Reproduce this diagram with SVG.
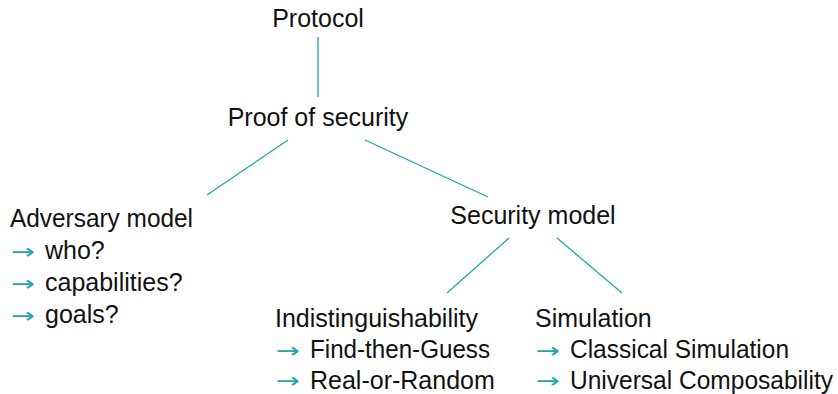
<svg xmlns="http://www.w3.org/2000/svg" width="838" height="394" viewBox="0 0 838 394">
<style>
text{font-family:"Liberation Sans","DejaVu Sans",sans-serif;font-size:25px;fill:#111}
.a{fill:#22a6a6;font-family:"DejaVu Sans",sans-serif;font-size:21px}
.c line{stroke:#22a6a6;stroke-width:1.3}
</style>
<rect width="838" height="394" fill="#fff"/>
<g class="c" id="connectors">
<line x1="318" y1="37" x2="318" y2="97"/>
<line x1="288" y1="140" x2="207" y2="195"/>
<line x1="365" y1="140" x2="488" y2="197"/>
<line x1="509" y1="238" x2="447" y2="293"/>
<line x1="557" y1="238" x2="622" y2="293"/>
</g>
<g id="protocol"><text x="318" y="27" text-anchor="middle">Protocol</text></g>
<g id="proof"><text x="318" y="126" text-anchor="middle">Proof of security</text></g>
<g id="adversary">
<text x="10" y="227" textLength="183" lengthAdjust="spacingAndGlyphs">Adversary model</text>
<text class="a" x="11" y="259" textLength="24" lengthAdjust="spacingAndGlyphs">→</text><text x="45" y="259">who?</text>
<text class="a" x="11" y="291" textLength="24" lengthAdjust="spacingAndGlyphs">→</text><text x="45" y="291">capabilities?</text>
<text class="a" x="11" y="323" textLength="24" lengthAdjust="spacingAndGlyphs">→</text><text x="45" y="323">goals?</text>
</g>
<g id="security"><text x="533" y="224" text-anchor="middle">Security model</text></g>
<g id="indist">
<text x="275" y="327" textLength="203" lengthAdjust="spacingAndGlyphs">Indistinguishability</text>
<text class="a" x="276" y="358" textLength="24" lengthAdjust="spacingAndGlyphs">→</text><text x="310" y="358" textLength="180" lengthAdjust="spacingAndGlyphs">Find-then-Guess</text>
<text class="a" x="276" y="388" textLength="24" lengthAdjust="spacingAndGlyphs">→</text><text x="310" y="389">Real-or-Random</text>
</g>
<g id="simulation">
<text x="535" y="327">Simulation</text>
<text class="a" x="536" y="358" textLength="24" lengthAdjust="spacingAndGlyphs">→</text><text x="570" y="358" textLength="219" lengthAdjust="spacingAndGlyphs">Classical Simulation</text>
<text class="a" x="536" y="388" textLength="24" lengthAdjust="spacingAndGlyphs">→</text><text x="570" y="389" textLength="263" lengthAdjust="spacingAndGlyphs">Universal Composability</text>
</g>
</svg>
